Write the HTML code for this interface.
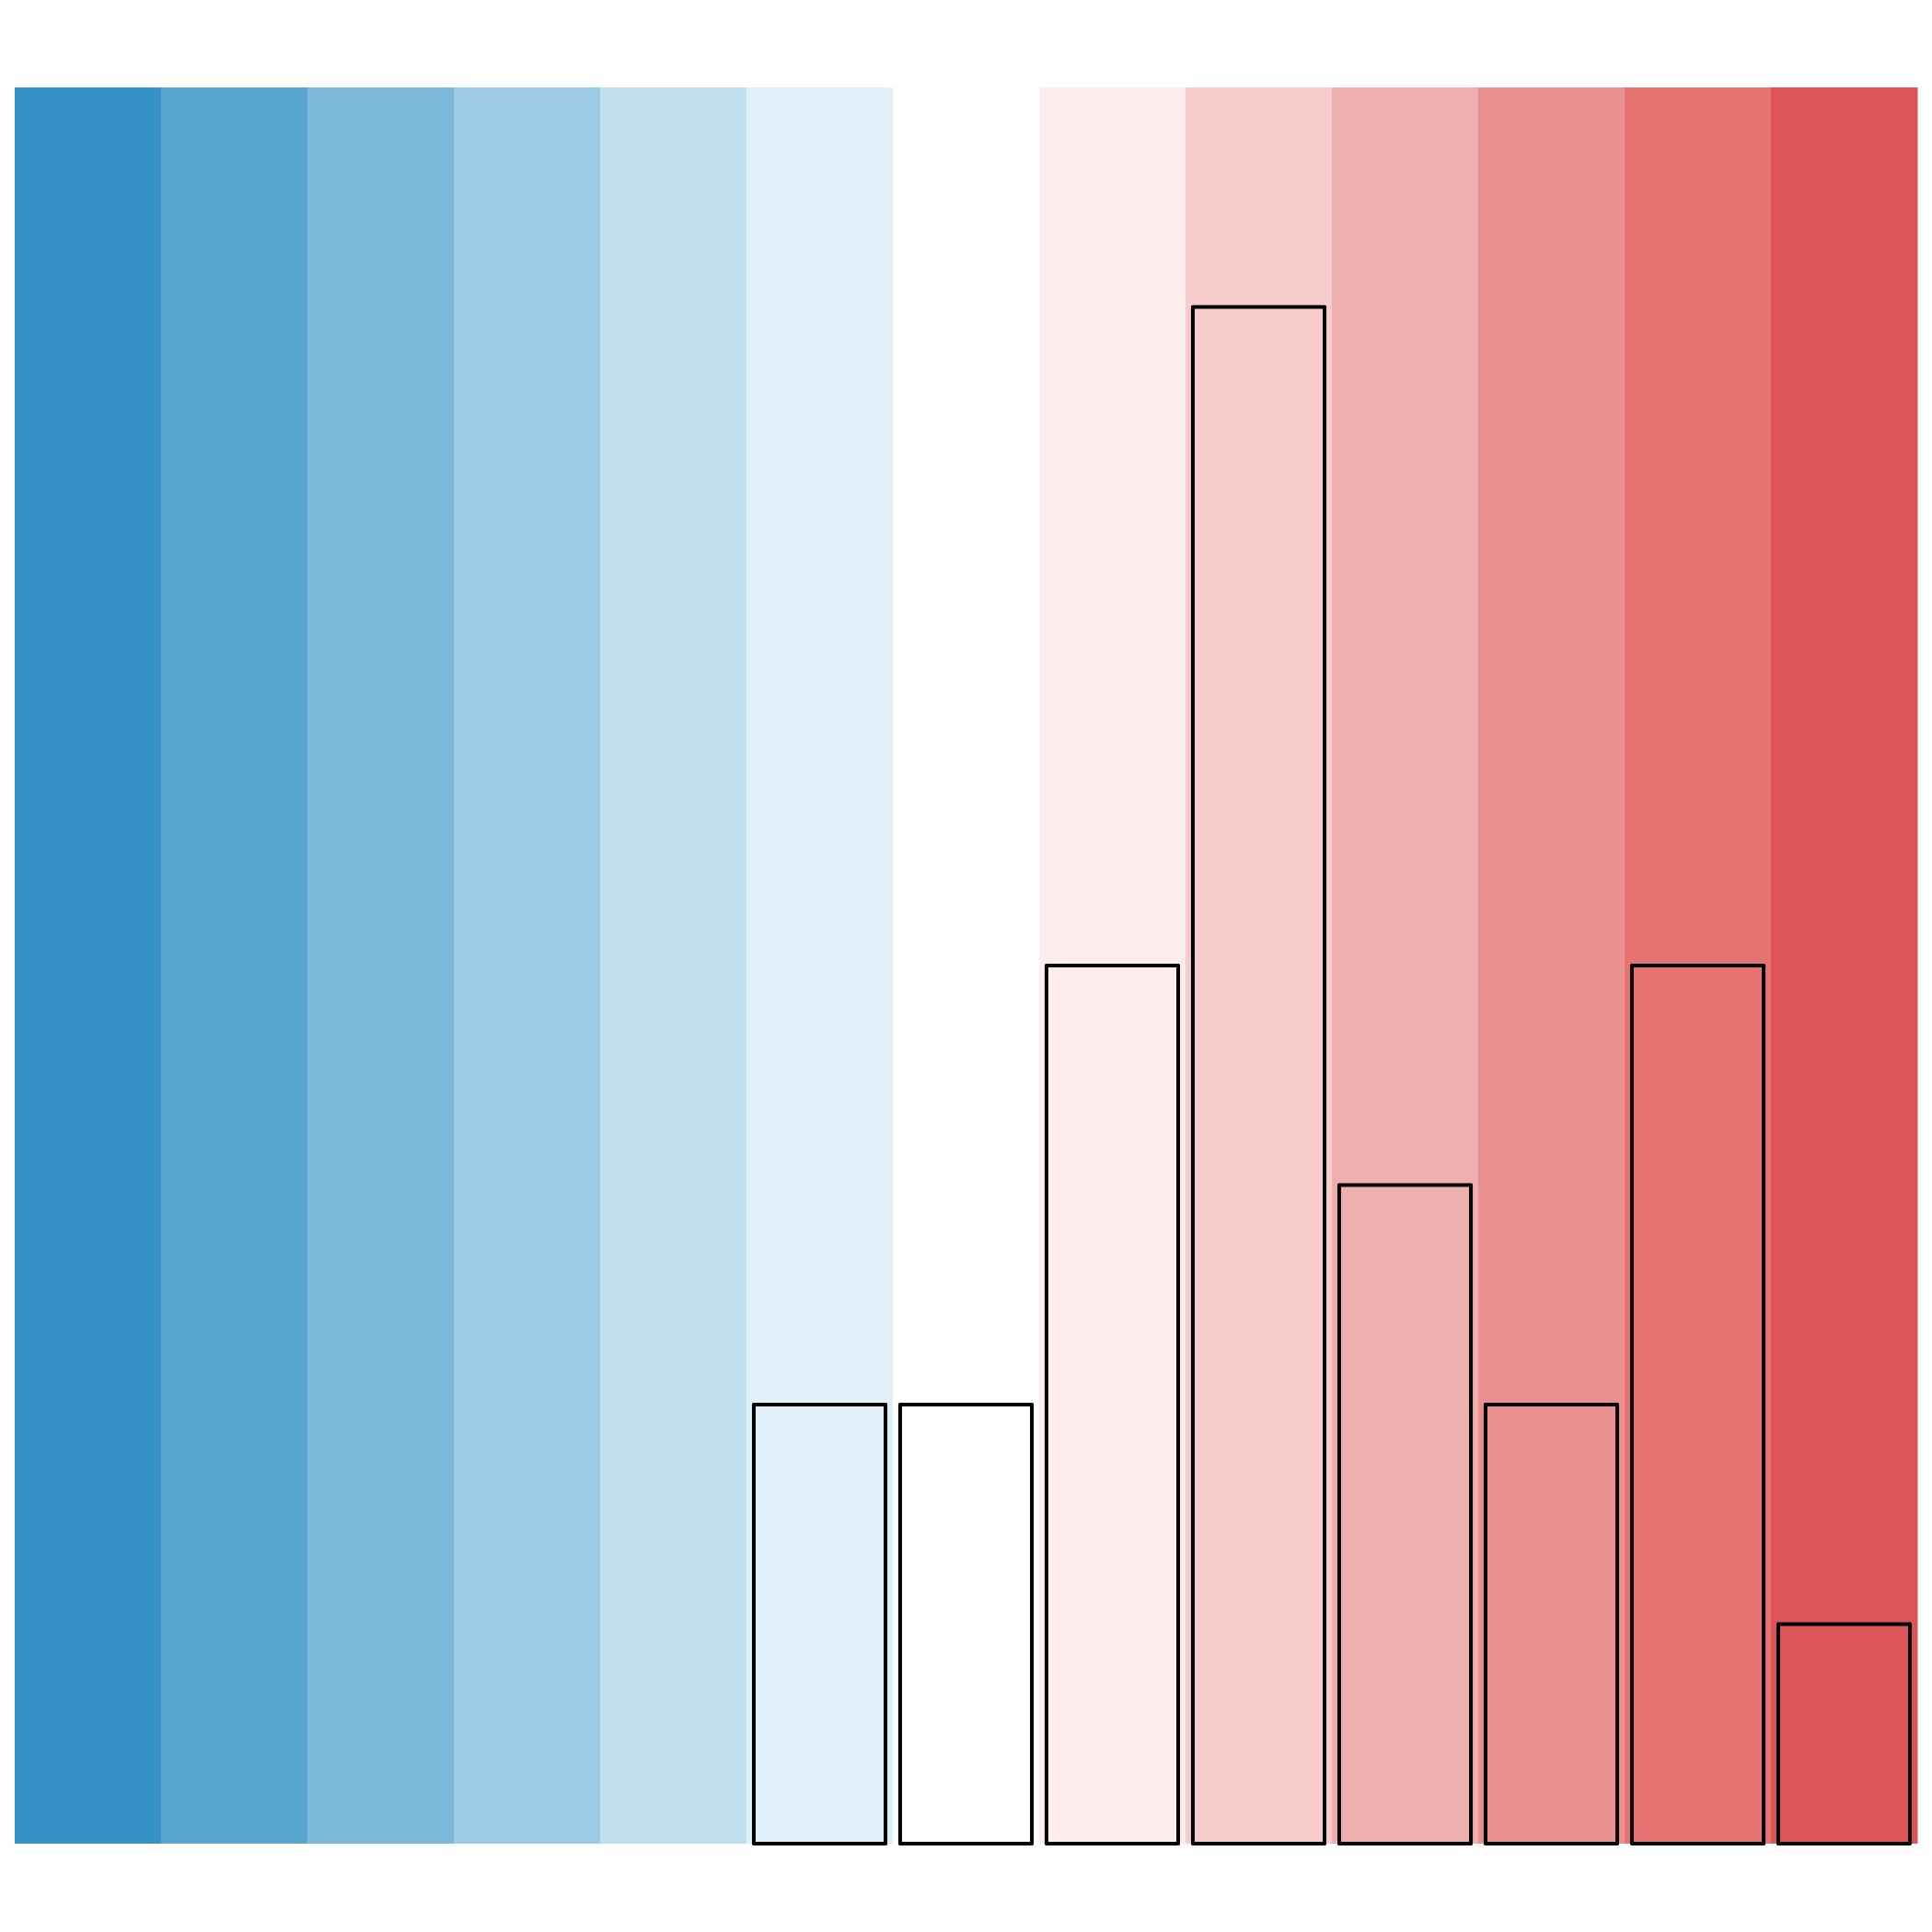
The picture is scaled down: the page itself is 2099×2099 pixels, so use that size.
<!DOCTYPE html>
<html><head><meta charset="utf-8"><style>
html,body{margin:0;padding:0;background:#fff;}
svg{display:block;}
</style></head><body>
<svg id="chart" width="2099" height="2099" viewBox="0 0 2099 2099" xmlns="http://www.w3.org/2000/svg">
<g id="stripes"></g>
<g id="bars"></g>
</svg>
<script>
const categories = ["c0","c1","c2","c3","c4","c5","c6","c7","c8","c9","c10","c11","c12"];
const stripeColors = ["#3492c6","#58a6cf","#7bb8d9","#9dcbe4","#c0dfef","#e0f0f8","#ffffff","#ffeced","#f6cccc","#f0afaf","#ea9090","#e67272","#de5557"];
const values = [null,null,null,null,null,2,2,4,7,3,2,4,1];
const yMax = 8;

const L = 16, R = 2083, T = 95, B = 2003;
const bw = (R - L) / categories.length;
function xScale(i){ return L + i * bw; }
function yScale(v){ return B - (v / yMax) * (B - T); }
const ns = "http://www.w3.org/2000/svg";
const sg = document.getElementById('stripes');
const bg = document.getElementById('bars');
categories.forEach((c, i) => {
  const r = document.createElementNS(ns, 'rect');
  r.setAttribute('x', xScale(i));
  r.setAttribute('y', T);
  r.setAttribute('width', bw + 0.5);
  r.setAttribute('height', B - T);
  r.setAttribute('fill', stripeColors[i]);
  
  
  sg.appendChild(r);
});
values.forEach((v, i) => {
  if (v === null) return;
  const inset = bw * 0.05;
  const b = document.createElementNS(ns, 'rect');
  b.setAttribute('x', xScale(i) + inset);
  b.setAttribute('y', yScale(v));
  b.setAttribute('width', bw - 2 * inset);
  b.setAttribute('height', B - yScale(v));
  b.setAttribute('fill', stripeColors[i]);
  b.setAttribute('stroke', '#000');
  b.setAttribute('stroke-width', '4');
  b.setAttribute('stroke-linejoin', 'round');
  
  
  bg.appendChild(b);
});
</script>
</body></html>
